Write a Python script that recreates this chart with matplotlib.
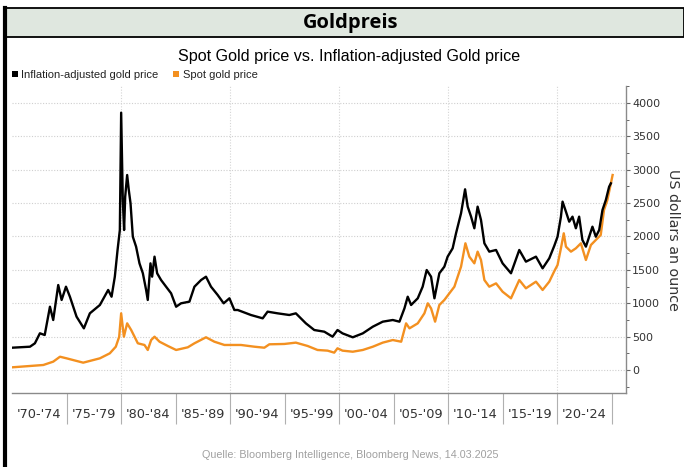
import matplotlib
matplotlib.use("Agg")
import matplotlib.pyplot as plt
import matplotlib.font_manager as fm
from matplotlib.patches import Rectangle, Patch
from matplotlib.lines import Line2D
from matplotlib.ticker import MultipleLocator, FixedLocator, FixedFormatter

# ---------------- data ----------------
infl_years = [1970.0, 1971.65, 1972.1, 1972.56, 1973.0, 1973.48, 1973.78, 1974.24, 1974.55, 1974.95,
              1975.31, 1975.92, 1976.59, 1977.14, 1978.06, 1978.82, 1979.13, 1979.43, 1979.68, 1979.89,
              1980.01, 1980.16, 1980.28, 1980.38, 1980.56, 1980.71, 1980.87, 1981.08, 1981.38, 1981.69,
              1982.0, 1982.3, 1982.45, 1982.7, 1982.85, 1983.07, 1983.31, 1983.67, 1984.13, 1984.59,
              1985.05, 1985.5, 1986.27, 1986.73, 1987.34, 1987.79, 1988.25, 1988.86, 1989.41, 1989.94,
              1990.39, 1990.7, 1991.91, 1992.99, 1993.44, 1994.36, 1995.43, 1996.03, 1996.95, 1997.72,
              1998.64, 1999.4, 1999.85, 2000.31, 2001.25, 2002.17, 2003.09, 2004.0, 2004.92, 2005.53,
              2005.99, 2006.29, 2006.6, 2007.21, 2007.66, 2008.03, 2008.43, 2008.74, 2009.19, 2009.65,
              2009.95, 2010.41, 2010.72, 2011.18, 2011.55, 2011.79, 2012.1, 2012.4, 2012.7, 2013.01,
              2013.32, 2013.77, 2014.39, 2014.99, 2015.76, 2016.52, 2017.13, 2018.05, 2018.66, 2019.27,
              2019.73, 2020.03, 2020.34, 2020.49, 2020.8, 2021.1, 2021.4, 2021.71, 2022.01, 2022.31,
              2022.63, 2022.93, 2023.23, 2023.54, 2023.85, 2024.15, 2024.46, 2024.76, 2024.92]
infl_values = [334, 349, 400, 550, 524, 948, 749, 1273, 1049, 1248,
               1098, 799, 624, 849, 974, 1199, 1098, 1398, 1798, 2097,
               3855, 2547, 2097, 2596, 2921, 2697, 2497, 1997, 1847, 1598,
               1449, 1199, 1049, 1598, 1398, 1698, 1449, 1348, 1248, 1149,
               948, 999, 1024, 1248, 1348, 1398, 1248, 1124, 999, 1074,
               899, 899, 824, 774, 874, 849, 824, 849, 699, 599,
               574, 499, 599, 549, 490, 549, 649, 724, 749, 724,
               924, 1098, 974, 1074, 1248, 1498, 1398, 1074, 1449, 1548,
               1698, 1823, 2048, 2348, 2707, 2447, 2297, 2123, 2447, 2247,
               1898, 1773, 1798, 1598, 1449, 1798, 1623, 1698, 1523, 1673,
               1860, 1997, 2297, 2522, 2372, 2222, 2297, 2123, 2297, 1948,
               1848, 1997, 2147, 1997, 2097, 2397, 2547, 2746, 2796]

spot_years = [1970.0, 1972.87, 1973.78, 1974.4, 1975.0, 1976.53, 1978.06, 1978.97, 1979.52, 1979.83,
              1980.01, 1980.26, 1980.56, 1980.93, 1981.54, 1982.15, 1982.45, 1982.76, 1983.07, 1983.53,
              1984.29, 1985.05, 1986.12, 1986.73, 1987.79, 1988.56, 1989.48, 1990.39, 1991.0, 1992.23,
              1993.14, 1993.6, 1994.97, 1996.03, 1997.11, 1998.02, 1998.94, 1999.55, 1999.85, 2000.31,
              2001.25, 2002.17, 2003.09, 2004.0, 2004.92, 2005.69, 2006.14, 2006.45, 2007.21, 2007.82,
              2008.13, 2008.43, 2008.8, 2009.19, 2009.65, 2010.11, 2010.57, 2010.72, 2011.18, 2011.58,
              2011.94, 2012.4, 2012.7, 2013.01, 2013.32, 2013.77, 2014.39, 2014.99, 2015.76, 2016.52,
              2017.13, 2018.05, 2018.66, 2019.27, 2019.73, 2020.03, 2020.34, 2020.6, 2020.8, 2021.26,
              2021.71, 2022.17, 2022.63, 2023.09, 2023.54, 2023.99, 2024.29, 2024.6, 2024.92, 2025.08]
spot_values = [40, 75, 125, 199, 175, 110, 175, 250, 349, 499,
               849, 499, 699, 599, 400, 375, 300, 449, 499, 424,
               360, 300, 340, 400, 490, 424, 375, 375, 375, 349,
               334, 385, 390, 410, 360, 300, 290, 260, 325, 290,
               274, 300, 349, 410, 449, 424, 699, 624, 699, 849,
               999, 924, 724, 974, 1049, 1149, 1248, 1323, 1548, 1898,
               1698, 1598, 1773, 1648, 1348, 1248, 1298, 1173, 1074, 1348,
               1224, 1323, 1199, 1323, 1480, 1573, 1823, 2048, 1848, 1773,
               1823, 1898, 1648, 1873, 1948, 2022, 2397, 2547, 2796, 2921]

period_labels = ["'70-'74", "'75-'79", "'80-'84", "'85-'89", "'90-'94", "'95-'99",
                 "'00-'04", "'05-'09", "'10-'14", "'15-'19", "'20-'24"]
period_starts = [1970, 1975, 1980, 1985, 1990, 1995, 2000, 2005, 2010, 2015, 2020]
y_ticks = [0, 500, 1000, 1500, 2000, 2500, 3000, 3500, 4000]

header_title = "Goldpreis"
chart_title = "Spot Gold price vs. Inflation-adjusted Gold price"
series_names = ["Inflation-adjusted gold price", "Spot gold price"]
y_label = "US dollars an ounce"
source_text = "Quelle: Bloomberg Intelligence, Bloomberg News, 14.03.2025"

# ---------------- fonts ----------------
avail = {f.name for f in fm.fontManager.ttflist}
narrow = 'Liberation Sans Narrow' if 'Liberation Sans Narrow' in avail else None
arial = 'Liberation Sans'

# ---------------- figure ----------------
W, H = 684, 467
fig = plt.figure(figsize=(W / 100, H / 100), dpi=100)
fig.patch.set_facecolor('white')

def fx(px):
    return px / W

def fy(py):
    return 1 - py / H

# header band
fig.patches.append(Rectangle((fx(4), fy(37)), fx(680), (37 - 8) / H, transform=fig.transFigure,
                             facecolor='#dfe7df', edgecolor='black', lw=1.3, zorder=1))
# left thick border
fig.lines.append(Line2D([fx(5), fx(5)], [0, fy(8)], transform=fig.transFigure,
                        color='black', lw=3.0, zorder=2))

fig.text(fx(351), fy(23), header_title, ha='center', va='center', fontsize=14.5,
         fontweight='bold', family='Open Sans', color='black')
fig.text(fx(349), fy(57), chart_title, ha='center', va='center', fontsize=11.6,
         family=arial, color='black')

# axes
ax_left, ax_right = 12, 625.7
ax_top, ax_bottom = 86.3, 392.7
ax = fig.add_axes([fx(ax_left), fy(ax_bottom), (ax_right - ax_left) / W, (ax_bottom - ax_top) / H])
ax.set_xlim(1970, 2026.28)
ax.set_ylim(-340, 4250)

ax.plot(spot_years, spot_values, color='#f39020', lw=1.7, zorder=3)
ax.plot(infl_years, infl_values, color='black', lw=1.7, zorder=4)

for s in ['left', 'top']:
    ax.spines[s].set_visible(False)
ax.spines['bottom'].set_color('#8a8a8a')
ax.spines['right'].set_color('#8a8a8a')
ax.spines['bottom'].set_linewidth(1.0)
ax.spines['right'].set_linewidth(1.0)

# y axis on right
ax.yaxis.tick_right()
ax.set_yticks(y_ticks)
ax.yaxis.set_minor_locator(MultipleLocator(250))
ax.tick_params(axis='y', which='major', direction='out', length=3, width=0.8, color='#666666',
               labelsize=8, labelcolor='#333333', pad=1.5)
ax.tick_params(axis='y', which='minor', direction='out', length=2.2, width=0.7, color='#666666')
for lab in ax.get_yticklabels():
    lab.set_family('DejaVu Sans')
ax.yaxis.grid(True, which='major', linestyle=(0, (1, 1.5)), color='#cfcfcf', lw=0.8)
ax.set_axisbelow(True)

# vertical dotted gridlines every 10 years
for yr in period_starts[2::2]:
    ax.axvline(yr, color='#d5d5d5', lw=0.8, linestyle=(0, (1, 1.5)), zorder=1)

# x axis: separators at period boundaries, labels centered between
sep_pos = [p + 5 for p in period_starts]
ax.xaxis.set_major_locator(FixedLocator(sep_pos))
ax.xaxis.set_major_formatter(FixedFormatter([''] * len(sep_pos)))
ax.xaxis.set_minor_locator(FixedLocator([p + 2.5 for p in period_starts]))
ax.xaxis.set_minor_formatter(FixedFormatter(period_labels))
ax.tick_params(axis='x', which='major', direction='out', length=22.5, width=0.8, color='#b0b0b0')
ax.tick_params(axis='x', which='minor', length=0, pad=11, labelsize=9.3, labelcolor='#333333')
for lab in ax.get_xticklabels(minor=True):
    lab.set_family('DejaVu Sans')

# y label
fig.text(fx(673), fy(240), y_label, rotation=270, ha='center', va='center',
         fontsize=10.3, family='DejaVu Sans', color='#333333')

# legend
leg_font = narrow if narrow else arial
leg_size = 9.0 if narrow else 8.0
handles = [Patch(facecolor='black', edgecolor='none'), Patch(facecolor='#f39020', edgecolor='none')]
leg = fig.legend(handles, series_names, loc='center left', bbox_to_anchor=(fx(12), fy(75)),
                 ncol=2, frameon=False, handlelength=0.55, handleheight=0.55, handletextpad=0.3,
                 columnspacing=1.3, borderaxespad=0, borderpad=0,
                 prop={'family': leg_font, 'size': leg_size})
for t in leg.get_texts():
    t.set_color('#222222')

# source
fig.text(fx(350), fy(455), source_text, ha='center', va='center',
         fontsize=9.2 if narrow else 7.75, family=leg_font, color='#a0a0a0')

fig.savefig('out.png', dpi=100)
